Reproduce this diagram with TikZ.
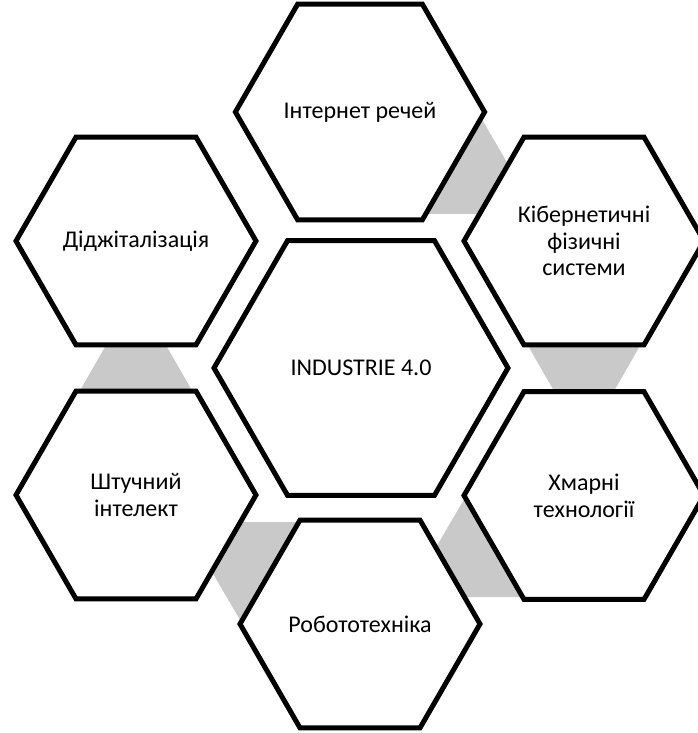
\documentclass[tikz,border=0pt]{standalone}
\usepackage{fontspec}
\setmainfont{Carlito}
\usetikzlibrary{shapes.geometric, calc, backgrounds}
\definecolor{linkgray}{RGB}{201,201,201}

\begin{document}
\begin{tikzpicture}[x=0.75pt, y=0.75pt, hex node/.style={regular polygon, regular polygon sides=6, draw, fill=white, line width=3.75pt, minimum size=180pt, inner sep=0pt, align=center, font=\fontsize{18}{20}\selectfont}, link/.style={fill=linkgray}]

  \useasboundingbox (0,0) rectangle (698,733);

  % Define nodes
  \node[hex node, minimum size=220.5pt] (core) at (361,365) {INDUSTRIE 4.0};
  \node[hex node] (inet) at (360,621) {Інтернет речей};
  \node[hex node] (cps) at (584,492) {Кібернетичні\\фізичні\\системи};
  \node[hex node] (cloud) at (584,237.5) {Хмарні\\технології};
  \node[hex node] (robot) at (360,109) {Робототехніка};
  \node[hex node] (ai) at (136,238) {Штучний\\інтелект};
  \node[hex node] (digit) at (136,492) {Діджіталізація};

  % Define links (wide at the first node, narrow at the second)
  \begin{scope}[on background layer]
    \fill[link] ($(inet)!.5!(cps)!22.5pt!(inet)!45.2pt!90:(cps)$) -- ($(inet)!.5!(cps)!22.5pt!(cps)!19.4pt!90:(cps)$) -- ($(inet)!.5!(cps)!22.5pt!(cps)!19.4pt!-90:(cps)$) -- ($(inet)!.5!(cps)!22.5pt!(inet)!45.2pt!-90:(cps)$) -- cycle;
    \fill[link] ($(cps)!.5!(cloud)!22.5pt!(cps)!45.2pt!90:(cloud)$) -- ($(cps)!.5!(cloud)!22.5pt!(cloud)!19.4pt!90:(cloud)$) -- ($(cps)!.5!(cloud)!22.5pt!(cloud)!19.4pt!-90:(cloud)$) -- ($(cps)!.5!(cloud)!22.5pt!(cps)!45.2pt!-90:(cloud)$) -- cycle;
    \fill[link] ($(cloud)!.5!(robot)!22.5pt!(cloud)!45.2pt!90:(robot)$) -- ($(cloud)!.5!(robot)!22.5pt!(robot)!19.4pt!90:(robot)$) -- ($(cloud)!.5!(robot)!22.5pt!(robot)!19.4pt!-90:(robot)$) -- ($(cloud)!.5!(robot)!22.5pt!(cloud)!45.2pt!-90:(robot)$) -- cycle;
    \fill[link] ($(robot)!.5!(ai)!22.5pt!(robot)!45.2pt!90:(ai)$) -- ($(robot)!.5!(ai)!22.5pt!(ai)!19.4pt!90:(ai)$) -- ($(robot)!.5!(ai)!22.5pt!(ai)!19.4pt!-90:(ai)$) -- ($(robot)!.5!(ai)!22.5pt!(robot)!45.2pt!-90:(ai)$) -- cycle;
    \fill[link] ($(ai)!.5!(digit)!22.5pt!(ai)!45.2pt!90:(digit)$) -- ($(ai)!.5!(digit)!22.5pt!(digit)!19.4pt!90:(digit)$) -- ($(ai)!.5!(digit)!22.5pt!(digit)!19.4pt!-90:(digit)$) -- ($(ai)!.5!(digit)!22.5pt!(ai)!45.2pt!-90:(digit)$) -- cycle;
  \end{scope}
\end{tikzpicture}
\end{document}
